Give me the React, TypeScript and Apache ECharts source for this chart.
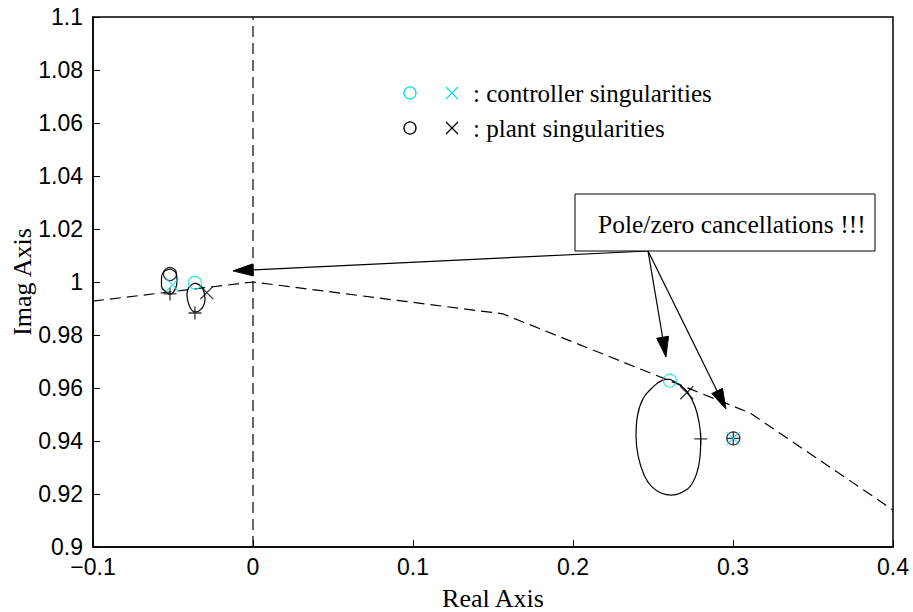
import React, { useEffect, useRef } from "react";
import * as echarts from "echarts";

// ---- data ----
const LOCUS_X = [-0.1, 0, 0.156, 0.3106, 0.4];
const LOCUS_Y = [0.9928, 1.0, 0.988, 0.9506, 0.914];

const IMAG_AXIS_X = [0, 0];
const IMAG_AXIS_Y = [0.9, 1.1];

const LOOP_A_X = [-0.0519, -0.0481, -0.0475, -0.0481, -0.0497, -0.0519, -0.0544, -0.0572, -0.0572, -0.0559, -0.0519];
const LOOP_A_Y = [1.0049, 1.0034, 1.0008, 0.9981, 0.9962, 0.9954, 0.9962, 0.9985, 1.0015, 1.0038, 1.0049];

const LOOP_B_X = [-0.0363, -0.0325, -0.0306, -0.0300, -0.0313, -0.0338, -0.0363, -0.0388, -0.0406, -0.0413, -0.0400, -0.0363];
const LOOP_B_Y = [0.9996, 0.9985, 0.9962, 0.9932, 0.9906, 0.9891, 0.9887, 0.9898, 0.9925, 0.9955, 0.9981, 0.9996];

const LOOP_C_X = [0.2606, 0.2669, 0.2721, 0.2763, 0.2789, 0.2798, 0.2794, 0.2773, 0.2731, 0.2669, 0.2613, 0.2554, 0.2492, 0.2444, 0.2408, 0.2394, 0.2402, 0.2439, 0.2502, 0.2554, 0.2606];
const LOOP_C_Y = [0.9633, 0.9611, 0.958, 0.9529, 0.9467, 0.9408, 0.9341, 0.9278, 0.9228, 0.9203, 0.9196, 0.9203, 0.9228, 0.9272, 0.9341, 0.9416, 0.9492, 0.9561, 0.9605, 0.9628, 0.9633];

const CTRL_ZEROS_X = [-0.0363, 0.2606];
const CTRL_ZEROS_Y = [0.9997, 0.9628];
const CTRL_POLES_X = [-0.0504, 0.3002];
const CTRL_POLES_Y = [0.9989, 0.941];
const PLANT_ZEROS_X = [-0.0519, 0.3002];
const PLANT_ZEROS_Y = [1.003, 0.941];
const PLANT_POLES_X = [-0.0289, 0.2711];
const PLANT_POLES_Y = [0.996, 0.9582];
const CL_POLES_X = [-0.0519, -0.0363, 0.2798, 0.3002];
const CL_POLES_Y = [0.9955, 0.9883, 0.9408, 0.941];

const ARROW_FROM = [0.2469, 1.0117];
const ARROW_TIPS_X = [-0.0125, 0.2581, 0.2956];
const ARROW_TIPS_Y = [1.0042, 0.9717, 0.9521];

const LEGEND_LABELS = [": controller singularities", ": plant singularities"];
const ANNOTATION = "Pole/zero cancellations !!!";
const X_NAME = "Real Axis";
const Y_NAME = "Imag Axis";

// ---- styles ----
const CYAN = "#10dede";
const BLACK = "#000000";
const SERIF = "Liberation Serif, Times New Roman, serif";
const SANS = "Liberation Sans, Arial, sans-serif";
const X_SYMBOL = "path://M0,0L10,10M10,0L0,10";
const PLUS_SYMBOL = "path://M5,0L5,10M0,5L10,5";

const zip = (xs: number[], ys: number[]) => xs.map((x, i) => [x, ys[i]]);

export default function App() {
  const ref = useRef<HTMLDivElement>(null);

  useEffect(() => {
    if (!ref.current) return;
    const chart = echarts.init(ref.current, undefined, { renderer: "svg" });

    const lineSeries = (data: number[][], dashed: boolean, smooth: boolean | number) => ({
      type: "line",
      data,
      showSymbol: false,
      symbol: "none",
      smooth,
      silent: true,
      lineStyle: { color: BLACK, width: 1.2, type: dashed ? [11, 6] : "solid" },
      z: 2,
    });

    const markerSeries = (data: number[][], symbol: string, color: string, size: number, z: number) => ({
      type: "scatter",
      data,
      symbol,
      symbolSize: size,
      silent: true,
      itemStyle: { color: "none", borderColor: color, borderWidth: 1.3 },
      z,
    });

    const legendGraphic: any[] = [];
    const legendRows = [
      { y: 93, color: CYAN, label: LEGEND_LABELS[0] },
      { y: 128, color: BLACK, label: LEGEND_LABELS[1] },
    ];
    legendRows.forEach((r) => {
      legendGraphic.push({
        type: "circle",
        shape: { cx: 410, cy: r.y, r: 6 },
        style: { fill: "none", stroke: r.color, lineWidth: 1.3 },
      });
      legendGraphic.push({
        type: "line",
        shape: { x1: 446, y1: r.y - 6, x2: 458, y2: r.y + 6 },
        style: { stroke: r.color, lineWidth: 1.3 },
      });
      legendGraphic.push({
        type: "line",
        shape: { x1: 446, y1: r.y + 6, x2: 458, y2: r.y - 6 },
        style: { stroke: r.color, lineWidth: 1.3 },
      });
      legendGraphic.push({
        type: "text",
        x: 473,
        y: r.y,
        style: { text: r.label, fill: BLACK, font: `25px ${SERIF}`, verticalAlign: "middle", align: "left" },
      });
    });

    const boxGraphic = [
      {
        type: "rect",
        shape: { x: 575, y: 194, width: 300, height: 57 },
        style: { fill: "#ffffff", stroke: BLACK, lineWidth: 1 },
        z: 10,
      },
      {
        type: "text",
        x: 598,
        y: 224,
        style: { text: ANNOTATION, fill: BLACK, font: `25.5px ${SERIF}`, verticalAlign: "middle", align: "left" },
        z: 11,
      },
    ];

    chart.setOption({
      animation: false,
      backgroundColor: "#ffffff",
      grid: {
        left: 93,
        right: 20,
        top: 17,
        bottom: 65,
        show: true,
        borderColor: BLACK,
        borderWidth: 1.5,
        backgroundColor: "transparent",
        containLabel: false,
        outerBoundsMode: "none",
      },
      xAxis: {
        type: "value",
        min: -0.1,
        max: 0.4,
        interval: 0.1,
        name: X_NAME,
        nameLocation: "middle",
        nameGap: 38,
        nameMoveOverlap: false,
        nameTextStyle: { fontFamily: SERIF, fontSize: 26, color: BLACK },
        axisLine: { show: true, onZero: false, lineStyle: { color: BLACK, width: 1.5 } },
        axisTick: { show: true, inside: true, length: 7, lineStyle: { color: BLACK, width: 1 } },
        axisLabel: {
          color: BLACK,
          fontFamily: SANS,
          fontSize: 23,
          margin: 8,
          showMinLabel: true,
          showMaxLabel: true,
          formatter: (v: number) => String(Math.round(v * 10) / 10).replace("-", "\u2212"),
        },
        splitLine: { show: false },
      },
      yAxis: {
        type: "value",
        min: 0.9,
        max: 1.1,
        interval: 0.02,
        name: Y_NAME,
        nameLocation: "middle",
        nameRotate: 90,
        nameGap: 58,
        nameMoveOverlap: false,
        nameTextStyle: { fontFamily: SERIF, fontSize: 26, color: BLACK },
        axisLine: { show: true, onZero: false, lineStyle: { color: BLACK, width: 1.5 } },
        axisTick: { show: true, inside: true, length: 7, lineStyle: { color: BLACK, width: 1 } },
        axisLabel: {
          color: BLACK,
          fontFamily: SANS,
          fontSize: 23,
          margin: 10,
          showMinLabel: true,
          showMaxLabel: true,
          formatter: (v: number) => String(Math.round(v * 100) / 100),
        },
        splitLine: { show: false },
      },
      series: [
        lineSeries(zip(LOCUS_X, LOCUS_Y), true, false),
        lineSeries(zip(IMAG_AXIS_X, IMAG_AXIS_Y), true, false),
        lineSeries(zip(LOOP_A_X, LOOP_A_Y), false, 0.4),
        lineSeries(zip(LOOP_B_X, LOOP_B_Y), false, 0.4),
        lineSeries(zip(LOOP_C_X, LOOP_C_Y), false, 0.4),
        markerSeries(zip(PLANT_ZEROS_X, PLANT_ZEROS_Y), "circle", BLACK, 13, 5),
        markerSeries(zip(PLANT_POLES_X, PLANT_POLES_Y), X_SYMBOL, BLACK, 13, 5),
        markerSeries(zip(CL_POLES_X, CL_POLES_Y), PLUS_SYMBOL, BLACK, 13, 5),
        markerSeries(zip(CTRL_ZEROS_X, CTRL_ZEROS_Y), "circle", CYAN, 13, 6),
        markerSeries(zip(CTRL_POLES_X, CTRL_POLES_Y), X_SYMBOL, CYAN, 13, 6),
      ],
      graphic: [...legendGraphic, ...boxGraphic],
    });

    // arrows, positioned in data coordinates
    const from = chart.convertToPixel({ gridIndex: 0 }, ARROW_FROM) as number[];
    const arrowGraphic: any[] = [];
    ARROW_TIPS_X.forEach((tx, i) => {
      const tip = chart.convertToPixel({ gridIndex: 0 }, [tx, ARROW_TIPS_Y[i]]) as number[];
      const dx = tip[0] - from[0];
      const dy = tip[1] - from[1];
      const len = Math.sqrt(dx * dx + dy * dy);
      const ux = dx / len;
      const uy = dy / len;
      const headLen = 20;
      const halfW = 6;
      const bx = tip[0] - ux * headLen;
      const by = tip[1] - uy * headLen;
      arrowGraphic.push({
        type: "line",
        shape: { x1: from[0], y1: from[1], x2: bx, y2: by },
        style: { stroke: BLACK, lineWidth: 1.2 },
        z: 8,
      });
      arrowGraphic.push({
        type: "polygon",
        shape: {
          points: [
            [tip[0], tip[1]],
            [bx - uy * halfW, by + ux * halfW],
            [bx + uy * halfW, by - ux * halfW],
          ],
        },
        style: { fill: BLACK, stroke: BLACK, lineWidth: 1 },
        z: 8,
      });
    });
    chart.setOption({ graphic: [...legendGraphic, ...boxGraphic, ...arrowGraphic] });

    return () => chart.dispose();
  }, []);

  return (
    <div
      ref={ref}
      style={{ position: "fixed", left: 0, top: 0, width: 913, height: 612, background: "#fff" }}
    />
  );
}
